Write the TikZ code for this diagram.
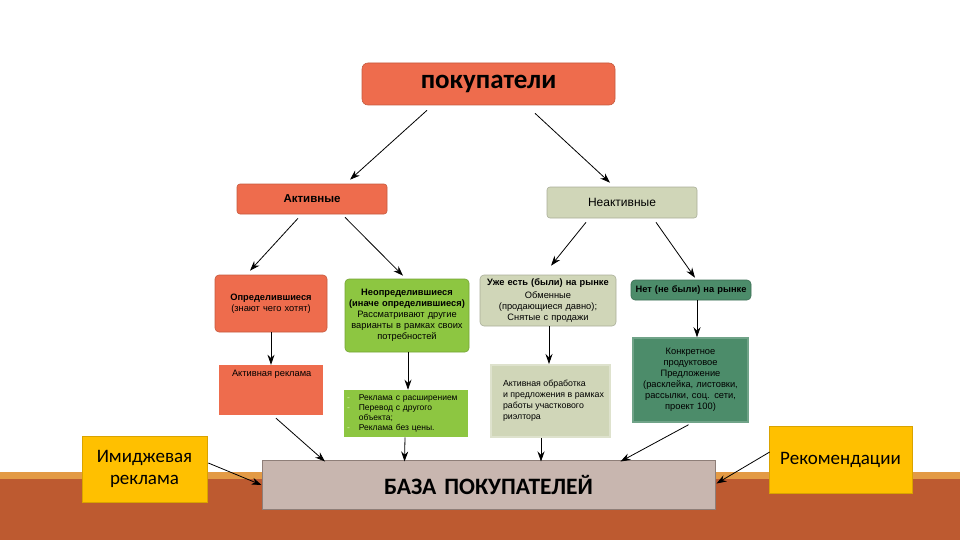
\documentclass[tikz,border=0pt]{standalone}
\usepackage{fontspec}
\setmainfont{Carlito}
\newfontfamily\arialf{Liberation Sans}
\usetikzlibrary{calc,arrows.meta}
\definecolor{bandD}{HTML}{BD5A30}
\definecolor{bandL}{HTML}{E39A45}
\definecolor{orangeF}{HTML}{EE6C4D}
\definecolor{orangeB}{HTML}{C55A3E}
\definecolor{sageF}{HTML}{D0D6B8}
\definecolor{sageB}{HTML}{A9AE98}
\definecolor{greenF}{HTML}{8DC641}
\definecolor{greenB}{HTML}{74A335}
\definecolor{dgreenF}{HTML}{4C8C6A}
\definecolor{dgreenB}{HTML}{3C6F55}
\definecolor{yelF}{HTML}{FFC000}
\definecolor{yelB}{HTML}{D9A300}
\definecolor{bazaF}{HTML}{C8B6AF}
\definecolor{bazaB}{HTML}{8E7E78}
\definecolor{bulletc}{HTML}{D9EDB0}
\begin{document}
\begin{tikzpicture}[x=1pt,y=-1pt,
  bx/.style args={#1/#2}{draw, line width=0.6pt, inner sep=2pt, align=center,
     minimum width=#1pt, minimum height=#2pt, text width=#1pt-6pt},
  arr/.style={-{Stealth[length=10pt,width=7pt]}, line width=0.8pt, black},
  small/.style={font=\arialf\fontsize{9.3}{11}\selectfont}
]
\useasboundingbox (0,0) rectangle (960,540);
% background band
\fill[bandL] (0,472) rectangle (960,480);
\fill[bandD] (0,479) rectangle (960,540);

% nodes
\node[bx=253/42, fill=orangeF, draw=orangeB, rounded corners=6pt,
  font=\bfseries\fontsize{27}{30}\selectfont] (top) at (488.5,84) {покупатели};
\node[bx=150/30, fill=orangeF, draw=orangeB, rounded corners=3pt,
  font=\arialf\bfseries\fontsize{11.5}{13}\selectfont] (akt) at (312,199) {Активные};
\node[bx=150/31, fill=sageF, draw=sageB, rounded corners=3pt,
  font=\arialf\fontsize{12}{14}\selectfont] (neakt) at (622,202.5) {Неактивные};

\node[bx=112/57, fill=orangeF, draw=orangeB, rounded corners=4pt, small] (opr) at (271,303.5)
  {\textbf{Определившиеся}\\(знают чего хотят)};
\node[bx=124/73, fill=greenF, draw=greenB, rounded corners=4pt, small] (neopr) at (407,315.5)
  {\textbf{Неопределившиеся}\\\textbf{(иначе определившиеся)}\\Рассматривают другие\\варианты в рамках своих\\потребностей};
\node[bx=136/51, fill=sageF, draw=sageB, rounded corners=4pt, small] (uzhe) at (548,300.5)
  {\textbf{Уже есть (были) на рынке}\\[2pt]Обменные\\(продающиеся давно);\\Снятые с продажи};
\node[bx=118/20, fill=dgreenF, draw=dgreenB, rounded corners=4pt, small, text width=116pt] (net) at (691,290)
  {\textbf{Нет (не были) на рынке}};

\node[fill=orangeF, draw=none, small, minimum width=104pt, minimum height=50pt, inner sep=0pt] (aktrekl) at (271,390)
  {\parbox[t][50pt][t]{90pt}{\vspace{5pt}\hspace*{6pt}Активная реклама}};
\node[bx=124/47, fill=greenF, draw=none, font=\arialf\fontsize{8.5}{10}\selectfont, align=left] (list) at (406,413.5)
  {\begin{tabular}{@{}l@{\hspace{9pt}}l@{}}
   \textcolor{bulletc}{-} & Реклама с расширением\\
   \textcolor{bulletc}{-} & Перевод с другого\\
    & объекта;\\
   \textcolor{bulletc}{-} & Реклама без цены.
   \end{tabular}};
\node[draw=sageF!70!white, line width=2pt, fill=sageF, minimum width=119pt, minimum height=72pt, inner sep=0pt,
  font=\arialf\fontsize{8.8}{11}\selectfont] (obrab) at (550.5,401)
  {\begin{tabular}{@{\hspace{6pt}}l@{}}Активная обработка\\и предложения в рамках\\работы участкового\\риэлтора\end{tabular}};
\node[bx=115/84, fill=dgreenF, draw=dgreenF!80!white, line width=1.5pt, small] (konkr) at (690.5,380)
  {Конкретное\\продуктовое\\Предложение\\(расклейка, листовки,\\рассылки, соц. сети,\\проект 100)};

\node[bx=125/66, fill=yelF, draw=yelB, font=\fontsize{19}{22}\selectfont] (imidzh) at (144.5,469)
  {Имиджевая\\реклама};
\node[bx=143/67, fill=yelF, draw=yelB, font=\fontsize{19}{22}\selectfont] (rekom) at (840.5,459.5)
  {Рекомендации};
\node[bx=453/49, fill=bazaF, draw=bazaB, line width=1pt, font=\bfseries\fontsize{23.5}{26}\selectfont] (baza) at (488.5,484.5)
  {БАЗА ПОКУПАТЕЛЕЙ};

% connectors
\draw[arr] ($(top.south)+(-61.5,5)$) -- ($(akt.north)+(38,-4)$);
\draw[arr] ($(top.south)+(46.5,8)$) -- ($(neakt.north)+(-12,-4)$);
\draw[arr] ($(akt.south)+(-14,4)$) -- ($(opr.north)+(-21,-4)$);
\draw[arr] ($(akt.south)+(33,3)$) -- ($(neopr.north)+(-4,-3)$);
\draw[arr] ($(neakt.south)+(-36,4)$) -- ($(uzhe.north)+(3,-9)$);
\draw[arr] ($(neakt.south)+(34,4)$) -- ($(net.north)+(4,-2)$);
\draw[arr] (opr.south) -- (aktrekl.north);
\draw[arr] ($(neopr.south)+(1,0)$) -- ($(list.north)+(2,0)$);
\draw[arr] ($(uzhe.south)+(1,0)$) -- ($(obrab.north)+(-1.5,0)$);
\draw[arr] ($(net.south)+(6,0)$) -- ($(konkr.north)+(6.5,0)$);
\draw[arr] ($(aktrekl.south)+(5,3)$) -- ($(baza.north)+(-163.5,2)$);
\draw[arr] ($(list.south)+(-1,0)$) -- ($(baza.north)+(-84,2)$);
\draw[arr] ($(obrab.south)+(-9.5,0)$) -- ($(baza.north)+(52.5,2)$);
\draw[arr] ($(konkr.south)+(-2,2)$) -- ($(baza.north)+(132,2)$);
\draw[arr] ($(imidzh.east)+(1,-6)$) -- ($(baza.west)+(0,0.5)$);
\draw[arr] ($(rekom.west)+(1,-7.5)$) -- ($(baza.east)+(1,-1)$);
\end{tikzpicture}
\end{document}
